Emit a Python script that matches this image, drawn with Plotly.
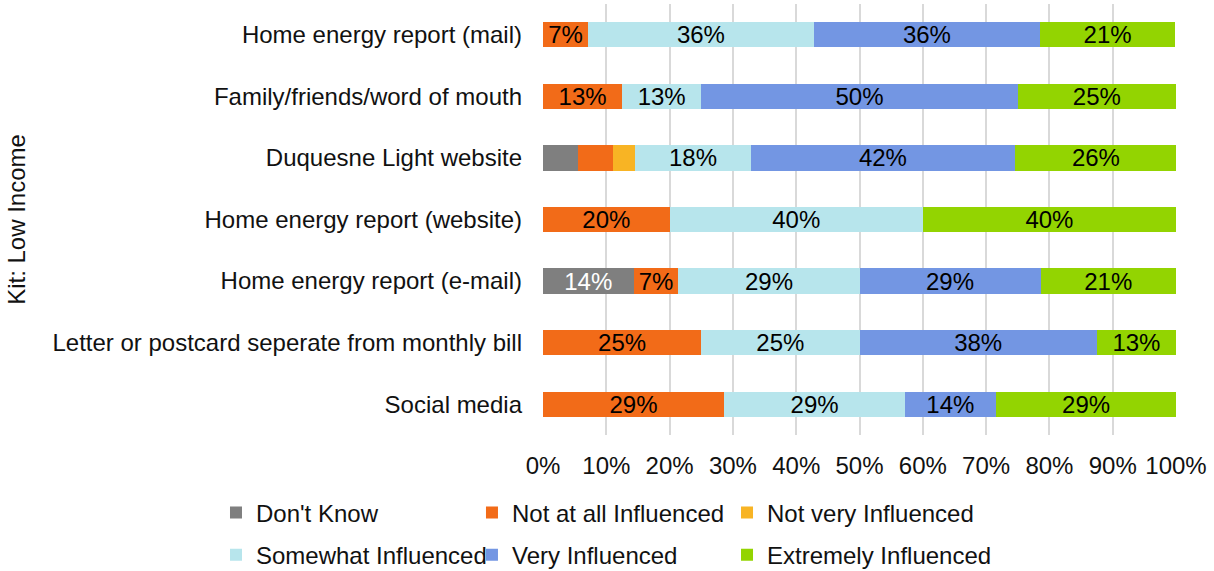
import math
import plotly.graph_objects as go

categories = [
    "Home energy report (mail)",
    "Family/friends/word of mouth",
    "Duquesne Light website",
    "Home energy report (website)",
    "Home energy report (e-mail)",
    "Letter or postcard seperate from monthly bill",
    "Social media",
]

series_names = [
    "Don't Know",
    "Not at all Influenced",
    "Not very Influenced",
    "Somewhat Influenced",
    "Very Influenced",
    "Extremely Influenced",
]

dont_know = [0, 0, 5.5, 0, 14.3, 0, 0]
not_at_all = [7.1, 12.5, 5.5, 20.0, 7.1, 25.0, 28.6]
not_very = [0, 0, 3.6, 0, 0, 0, 0]
somewhat = [35.7, 12.5, 18.2, 40.0, 28.6, 25.0, 28.6]
very = [35.7, 50.0, 41.8, 0, 28.6, 37.5, 14.3]
extremely = [21.4, 25.0, 25.5, 40.0, 21.4, 12.5, 28.6]

colors = ["#7f7f7f", "#f26b18", "#f8b424", "#b7e5ec", "#7396e3", "#93d401"]
text_colors = ["#ffffff", "#000000", "#000000", "#000000", "#000000", "#000000"]

x_ticks = [0, 10, 20, 30, 40, 50, 60, 70, 80, 90, 100]
x_tick_labels = [f"{v}%" for v in x_ticks]

FONT = "Liberation Sans, Arial, sans-serif"
FS = 24
TXT = "#111111"

# legend columns: series index -> legend id (3 columns, 2 rows)
legend_ids = ["legend", "legend2", "legend3", "legend", "legend2", "legend3"]

fig = go.Figure()
all_series = [dont_know, not_at_all, not_very, somewhat, very, extremely]
for i, (name, vals) in enumerate(zip(series_names, all_series)):
    labels = [f"{int(math.floor(v + 0.5))}%" if v > 6 else "" for v in vals]
    fig.add_trace(go.Bar(
        y=categories, x=vals, name=name, orientation="h",
        marker=dict(color=colors[i], line=dict(width=0)),
        text=labels, textposition="inside", insidetextanchor="middle",
        constraintext="none",
        textfont=dict(family=FONT, size=FS, color=text_colors[i]),
        legend=legend_ids[i], legendgroup=name,
        hoverinfo="skip",
    ))

legend_common = dict(
    orientation="v", xanchor="left", yanchor="middle", y=-0.2297,
    traceorder="grouped", tracegroupgap=8,
    font=dict(family=FONT, size=FS, color=TXT), itemclick=False,
    bgcolor="rgba(0,0,0,0)",
)

fig.update_layout(
    barmode="stack",
    bargap=0.59,
    width=1214, height=571,
    margin=dict(l=543, r=38, t=4, b=136, autoexpand=False),
    paper_bgcolor="white", plot_bgcolor="white",
    font=dict(family=FONT, size=FS, color=TXT),
    xaxis=dict(
        range=[0, 100], tickvals=x_ticks, ticktext=x_tick_labels,
        showgrid=True, gridcolor="#d9d9d9", gridwidth=2,
        zeroline=False, showline=False, ticks="",
        ticklabelstandoff=14, automargin=False,
        tickfont=dict(size=FS, color=TXT),
    ),
    yaxis=dict(
        categoryorder="array", categoryarray=categories,
        range=[6.5, -0.5], showgrid=False, zeroline=False,
        ticks="", ticklabelstandoff=20,
        tickfont=dict(size=FS, color=TXT),
        title=dict(text="Kit: Low Income", font=dict(size=FS, color=TXT), standoff=20),
        automargin=False,
    ),
    legend=dict(x=-0.5166, **legend_common),
    legend2=dict(x=-0.1122, **legend_common),
    legend3=dict(x=0.2907, **legend_common),
    showlegend=True,
)

fig.write_html("out.html", config={"displayModeBar": False},
               post_script="document.body.style.margin='0';")
